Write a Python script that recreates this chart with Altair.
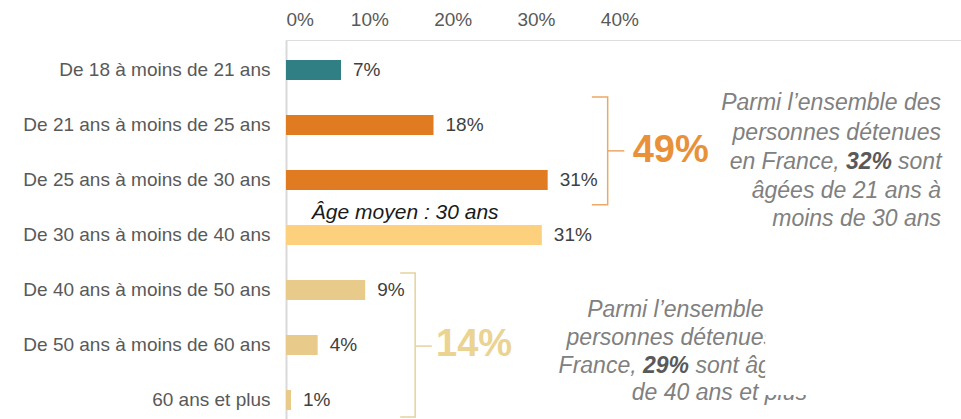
import altair as alt
import pandas as pd

FONT = "Liberation Sans, Arial, sans-serif"

# ---- main data ----
categories = ["De 18 à moins de 21 ans", "De 21 ans à moins de 25 ans", "De 25 ans à moins de 30 ans",
              "De 30 ans à moins de 40 ans", "De 40 ans à moins de 50 ans", "De 50 ans à moins de 60 ans",
              "60 ans et plus"]
shares = [0.066, 0.177, 0.314, 0.307, 0.095, 0.038, 0.006]
share_labels = ["7%", "18%", "31%", "31%", "9%", "4%", "1%"]
bar_colors = ["#2F7F84", "#E07B22", "#E07B22", "#FDD07E", "#E8CA8A", "#E8CA8A", "#E8CA8A"]
tick_values = [0, 0.1, 0.2, 0.3, 0.4]

# ---- annotations (x in share units, y in row units: row 0 = first category) ----
bracket_seg = ["top", "top", "top", "top", "topnub", "topnub", "bot", "bot", "bot", "bot", "botnub", "botnub"]
bracket_col = ["#ECA866"] * 6 + ["#E5D2A0"] * 6
bracket_ord = [0, 1, 2, 3, 0, 1, 0, 1, 2, 3, 0, 1]
bracket_x = [0.367, 0.386, 0.386, 0.367, 0.386, 0.406, 0.137, 0.155, 0.155, 0.137, 0.155, 0.175]
bracket_row = [0.49, 0.49, 2.45, 2.45, 1.47, 1.47, 3.69, 3.69, 6.31, 6.31, 5.02, 5.02]

big_text = ["49%", "14%"]
big_x = [0.416, 0.180]
big_row = [1.47, 5.0]
big_col = ["#E8913A", "#EBD391"]

avg_text = ["Âge moyen : 30 ans"]
avg_x = [0.031]
avg_row = [2.6]

# right-aligned plain lines
r_text = ["Parmi l’ensemble des", "personnes détenues", "en France,", "âgées de 21 ans à", "moins de 30 ans",
          "Parmi l’ensemble des", "personnes détenues en", "France,", "de 40 ans et plus"]
r_x = [0.786, 0.786, 0.6643, 0.786, 0.786, 0.6252, 0.6252, 0.4207, 0.6252]
r_row = [0.6, 1.145, 1.673, 2.2, 2.71, 4.36, 4.87, 5.38, 5.87]
# left-aligned plain pieces
l_text = ["sont", "sont âgées"]
l_x = [0.7345, 0.4913]
l_row = [1.673, 5.38]
# bold pieces
b_text = ["32%", "29%"]
b_x = [0.672, 0.4284]
b_row = [1.673, 5.38]

mask_x, mask_x2 = [0.575], [0.70]
mask_row, mask_row2 = [4.0], [5.91]

df = pd.DataFrame({"cat": categories, "share": shares, "lab": share_labels, "col": bar_colors})

xs = alt.Scale(domain=[0, 0.81], nice=False, zero=True)
xaxis = alt.Axis(orient="top", values=tick_values, format=".0%", title=None, grid=False,
                 ticks=False, domain=False, labelColor="#595959", labelFontSize=19,
                 labelFont=FONT, labelPadding=11)
yaxis = alt.Axis(title=None, ticks=False, domainColor="#D9D9D9", domainWidth=2,
                 labelColor="#595959", labelFontSize=19, labelFont=FONT,
                 labelPadding=16, labelLimit=400)
ys = alt.Scale(paddingInner=0.63636, paddingOuter=0.2636, align=0.69)


def xa(field):
    return alt.X(f"{field}:Q", scale=xs, axis=xaxis)


def yc():
    return alt.Y("cat:N", sort=categories, scale=ys, axis=yaxis)


bars = alt.Chart(df).mark_bar().encode(
    x=xa("share"), y=yc(), color=alt.Color("col:N", scale=None))
vals = alt.Chart(df).mark_text(align="left", baseline="middle", dx=12, fontSize=19, font=FONT,
                               color="#404040").encode(x=xa("share"), y=yc(), text="lab:N")
base = alt.layer(bars, vals)

yq_scale = alt.Scale(domain=[-0.5455, 6.3455], reverse=True, nice=False, zero=False)


def yq(field):
    return alt.Y(f"{field}:Q", scale=yq_scale, axis=None)


br = pd.DataFrame({"seg": bracket_seg, "c": bracket_col, "o": bracket_ord, "x": bracket_x, "r": bracket_row})
brackets = alt.Chart(br).mark_line(strokeWidth=1.5).encode(
    x=xa("x"), y=yq("r"), detail="seg:N", order="o:Q",
    color=alt.Color("c:N", scale=None))

bigdf = pd.DataFrame({"t": big_text, "x": big_x, "r": big_row, "c": big_col})
bigs = alt.Chart(bigdf).mark_text(align="left", baseline="middle", fontSize=38, fontWeight="bold", font=FONT).encode(
    x=xa("x"), y=yq("r"), text="t:N", color=alt.Color("c:N", scale=None))

avgdf = pd.DataFrame({"t": avg_text, "x": avg_x, "r": avg_row})
avg = alt.Chart(avgdf).mark_text(align="left", baseline="middle", fontSize=21, fontStyle="italic",
                                 font=FONT, color="#1A1A1A").encode(x=xa("x"), y=yq("r"), text="t:N")

rdf = pd.DataFrame({"t": r_text, "x": r_x, "r": r_row})
rtxt = alt.Chart(rdf).mark_text(align="right", baseline="middle", fontSize=23, fontStyle="italic",
                                font=FONT, color="#808080").encode(x=xa("x"), y=yq("r"), text="t:N")
ldf = pd.DataFrame({"t": l_text, "x": l_x, "r": l_row})
ltxt = alt.Chart(ldf).mark_text(align="left", baseline="middle", fontSize=23, fontStyle="italic",
                                font=FONT, color="#808080").encode(x=xa("x"), y=yq("r"), text="t:N")
bdf = pd.DataFrame({"t": b_text, "x": b_x, "r": b_row})
btxt = alt.Chart(bdf).mark_text(align="left", baseline="middle", fontSize=23, fontStyle="italic",
                                fontWeight="bold", font=FONT, color="#595959").encode(x=xa("x"), y=yq("r"), text="t:N")

mdf = pd.DataFrame({"x": mask_x, "x2": mask_x2, "r": mask_row, "r2": mask_row2})
mask = alt.Chart(mdf).mark_rect(color="white").encode(x=xa("x"), x2="x2:Q", y=yq("r"), y2="r2:Q")

ann = alt.layer(brackets, bigs, avg, rtxt, ltxt, btxt, mask)

chart = alt.layer(base, ann).resolve_scale(y="independent").properties(
    width=675, height=379,
    autosize=alt.AutoSizeParams(type="none"),
    padding={"left": 286, "top": 40, "right": 0, "bottom": 0},
).configure_view(stroke=None).configure(background="white")

chart.save("out.html", embed_options={"renderer": "svg", "actions": False})
